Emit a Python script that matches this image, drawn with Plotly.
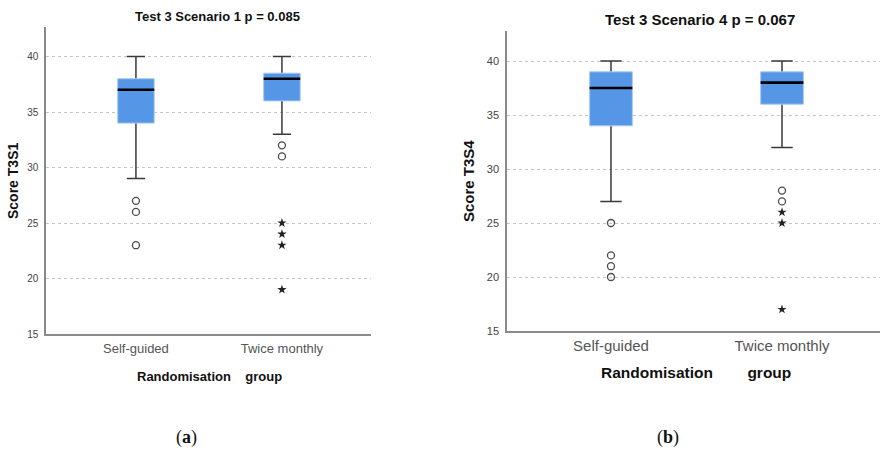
import plotly.graph_objects as go

groups = ["Self-guided", "Twice monthly"]

# Panel (a): Test 3 Scenario 1
a_lower = [29, 33]
a_q1 = [34, 36]
a_median = [37, 38]
a_q3 = [38, 38.5]
a_upper = [40, 40]
a_circle_x = ["Self-guided", "Self-guided", "Self-guided", "Twice monthly", "Twice monthly"]
a_circle_y = [27, 26, 23, 32, 31]
a_star_x = ["Twice monthly", "Twice monthly", "Twice monthly", "Twice monthly"]
a_star_y = [25, 24, 23, 19]

# Panel (b): Test 3 Scenario 4
b_lower = [27, 32]
b_q1 = [34, 36]
b_median = [37.5, 38]
b_q3 = [39, 39]
b_upper = [40, 40]
b_circle_x = ["Self-guided"] * 4 + ["Twice monthly"] * 2
b_circle_y = [25, 22, 21, 20, 28, 27]
b_star_x = ["Twice monthly"] * 3
b_star_y = [26, 25, 17]

y_ticks = [15, 20, 25, 30, 35, 40]

BOX_FILL = "#5596E6"
BOX_EDGE = "#a9cbf2"
WHISK = "#3a3a3a"

fig = go.Figure()


def add_panel(fig, xa, ya, lower, q1, med, q3, upper, cx, cy, sx, sy):
    common = dict(x=groups, xaxis=xa, yaxis=ya, width=0.25, boxpoints=False,
                  hoverinfo="skip", showlegend=False)
    # whiskers
    fig.add_trace(go.Box(q1=med, median=med, q3=med, lowerfence=lower, upperfence=upper,
                         line=dict(color=WHISK, width=1.5), fillcolor="rgba(0,0,0,0)",
                         whiskerwidth=0.5, **common))
    # box body
    fig.add_trace(go.Box(q1=q1, median=med, q3=q3, lowerfence=q1, upperfence=q3,
                         line=dict(color=BOX_EDGE, width=1), fillcolor=BOX_FILL,
                         whiskerwidth=0, **common))
    # median line
    fig.add_trace(go.Box(q1=med, median=med, q3=med, lowerfence=med, upperfence=med,
                         line=dict(color="black", width=2.6), fillcolor="rgba(0,0,0,0)",
                         whiskerwidth=0, **common))
    fig.add_trace(go.Scatter(x=cx, y=cy, xaxis=xa, yaxis=ya, mode="markers",
                             marker=dict(symbol="circle-open", size=7, color="#4a4a4a",
                                         line=dict(width=1.3, color="#4a4a4a")),
                             hoverinfo="skip", showlegend=False))
    fig.add_trace(go.Scatter(x=sx, y=sy, xaxis=xa, yaxis=ya, mode="markers",
                             marker=dict(symbol="star", size=7, color="#222",
                                         line=dict(width=0)),
                             hoverinfo="skip", showlegend=False))


add_panel(fig, "x", "y", a_lower, a_q1, a_median, a_q3, a_upper,
          a_circle_x, a_circle_y, a_star_x, a_star_y)
add_panel(fig, "x2", "y2", b_lower, b_q1, b_median, b_q3, b_upper,
          b_circle_x, b_circle_y, b_star_x, b_star_y)

W, H = 880, 450

axis_common_y = dict(tickvals=y_ticks, showgrid=True, gridcolor="#c4c4c4", griddash="3px,3px",
                     gridwidth=1, zeroline=False, showline=True, linecolor="#8a8a8a",
                     linewidth=1.5, ticks="", ticklabelstandoff=4, automargin=False)
axis_common_x = dict(type="category", showgrid=False, zeroline=False, showline=True,
                     linecolor="#8a8a8a", linewidth=1.5, ticks="", automargin=False)

fig.update_layout(
    width=W, height=H,
    margin=dict(l=0, r=0, t=0, b=0, autoexpand=False),
    paper_bgcolor="white", plot_bgcolor="white",
    font=dict(family="Liberation Sans, Arial, sans-serif", color="#444"),
    boxmode="overlay",
    xaxis=dict(domain=[46 / W, 371 / W], range=[-0.616, 1.61], anchor="y",
               ticklabelstandoff=2, tickfont=dict(size=13, color="#555"), **axis_common_x),
    yaxis=dict(domain=[1 - 334 / H, 1 - 27 / H], range=[15, 42.66], anchor="x",
               tickfont=dict(size=10, color="#444"), **axis_common_y),
    xaxis2=dict(domain=[507 / W, 1.0], range=[-0.608, 1.573], anchor="y2",
                ticklabelstandoff=0, tickfont=dict(size=15, color="#555"), **axis_common_x),
    yaxis2=dict(domain=[1 - 331 / H, 1 - 31 / H], range=[15, 42.78], anchor="x2",
                tickfont=dict(size=11, color="#444"), **axis_common_y),
)

ann = []


def px_ann(text, x, y, size, bold=True, angle=0, color="#111"):
    return dict(text=(f"<b>{text}</b>" if bold else text), x=x / W, y=1 - y / H,
                xref="paper", yref="paper", showarrow=False, textangle=angle,
                xanchor="center", yanchor="middle",
                font=dict(size=size, color=color))


ann.append(px_ann("Test 3 Scenario 1 p = 0.085", 217, 16, 13))
ann.append(px_ann("Test 3 Scenario 4 p = 0.067", 700, 20, 15))
ann.append(px_ann("Score T3S1", 13, 181, 14, angle=-90))
ann.append(px_ann("Score T3S4", 468, 181, 15, angle=-90))
ann.append(px_ann("Randomisation&nbsp;&nbsp;&nbsp;&nbsp;group", 209, 376, 13))
ann.append(px_ann("Randomisation&nbsp;&nbsp;&nbsp;&nbsp;&nbsp;&nbsp;&nbsp;&nbsp;group", 696, 372, 15.5))
serif = "Liberation Serif, DejaVu Serif, serif"
ann.append(dict(text="(<b>a</b>)", x=186 / W, y=1 - 437 / H, xref="paper", yref="paper",
                showarrow=False, xanchor="center", yanchor="middle",
                font=dict(size=18, color="#111", family=serif)))
ann.append(dict(text="(<b>b</b>)", x=668 / W, y=1 - 437 / H, xref="paper", yref="paper",
                showarrow=False, xanchor="center", yanchor="middle",
                font=dict(size=18, color="#111", family=serif)))
fig.update_layout(annotations=ann)

fig.write_html("out.html")
